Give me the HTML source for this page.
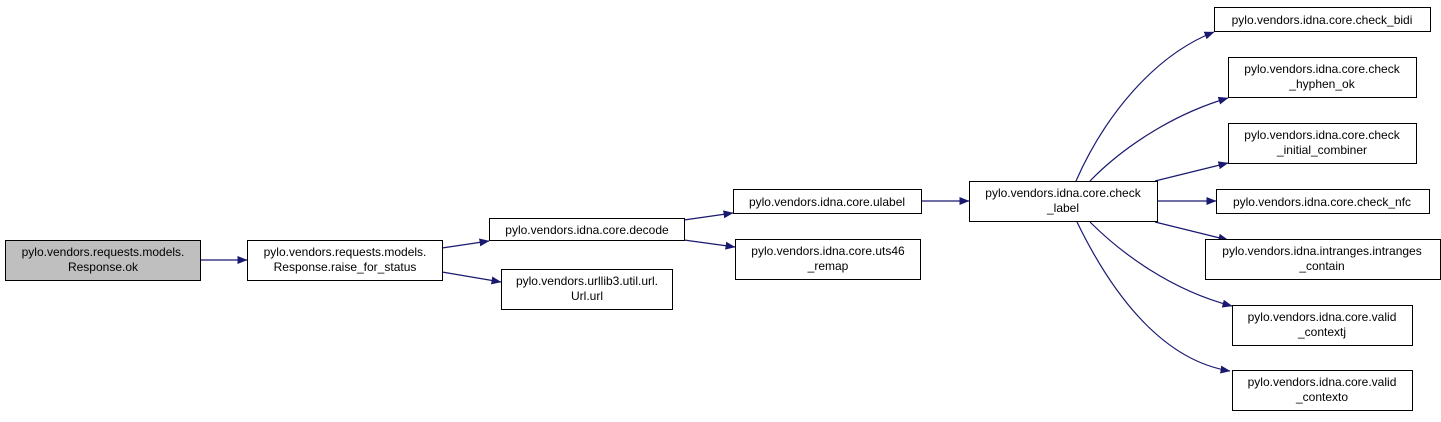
<!DOCTYPE html>
<html><head><meta charset="utf-8"><style>
html,body{margin:0;padding:0;background:#fff;}
svg text{font-family:"Liberation Sans",sans-serif;font-size:12px;fill:#000;}
</style></head><body>
<svg width="1441" height="417" viewBox="0 0 1441 417" xmlns="http://www.w3.org/2000/svg">
<defs><marker id="a" markerWidth="10" markerHeight="8" refX="9.5" refY="4" orient="auto" markerUnits="userSpaceOnUse"><path d="M0,0 L10,4 L0,8 Z" fill="#191970"/></marker></defs>
<g fill="none" stroke="#191970" stroke-width="1.2" marker-end="url(#a)">
<path d="M200,260 L247,260"/>
<path d="M442,248 L489,241"/>
<path d="M442,272 L501,282"/>
<path d="M684,220 L733,213"/>
<path d="M684,240 L735,247"/>
<path d="M921,201 L969,201"/>
<path d="M1076,181 C1105,115 1155,55 1214,32"/>
<path d="M1090,181 C1120,150 1170,115 1228,98"/>
<path d="M1155,181 L1228,163"/>
<path d="M1157,201 L1216,201"/>
<path d="M1155,222 L1228,240"/>
<path d="M1090,222 C1120,252 1170,290 1232,306"/>
<path d="M1077,222 C1110,290 1160,360 1230,371"/>
</g>
<g stroke="#000" stroke-width="1" fill="#fff">
<rect x="5.5" y="240.5" width="195" height="40" fill="#bfbfbf"/>
<rect x="247.5" y="240.5" width="195" height="40"/>
<rect x="489.5" y="218.5" width="195" height="22"/>
<rect x="501.5" y="269.5" width="171" height="40"/>
<rect x="733.5" y="189.5" width="188" height="24"/>
<rect x="735.5" y="239.5" width="185" height="40"/>
<rect x="969.5" y="181.5" width="188" height="40"/>
<rect x="1214.5" y="7.5" width="216" height="24"/>
<rect x="1228.5" y="57.5" width="188" height="40"/>
<rect x="1228.5" y="123.5" width="188" height="40"/>
<rect x="1216.5" y="189.5" width="213" height="24"/>
<rect x="1205.5" y="239.5" width="235" height="40"/>
<rect x="1232.5" y="305.5" width="180" height="40"/>
<rect x="1232.5" y="370.5" width="180" height="40"/>
</g>
<g text-anchor="middle">
<text x="103" y="256">pylo.vendors.requests.models.</text><text x="103" y="271">Response.ok</text>
<text x="345" y="256">pylo.vendors.requests.models.</text><text x="345" y="271">Response.raise_for_status</text>
<text x="587" y="234">pylo.vendors.idna.core.decode</text>
<text x="587" y="285">pylo.vendors.urllib3.util.url.</text><text x="587" y="300">Url.url</text>
<text x="827" y="206">pylo.vendors.idna.core.ulabel</text>
<text x="828" y="255">pylo.vendors.idna.core.uts46</text><text x="828" y="270">_remap</text>
<text x="1063" y="197">pylo.vendors.idna.core.check</text><text x="1063" y="212">_label</text>
<text x="1322" y="24">pylo.vendors.idna.core.check_bidi</text>
<text x="1322" y="73">pylo.vendors.idna.core.check</text><text x="1322" y="88">_hyphen_ok</text>
<text x="1322" y="139">pylo.vendors.idna.core.check</text><text x="1322" y="154">_initial_combiner</text>
<text x="1322" y="206">pylo.vendors.idna.core.check_nfc</text>
<text x="1322" y="255">pylo.vendors.idna.intranges.intranges</text><text x="1322" y="270">_contain</text>
<text x="1322" y="321">pylo.vendors.idna.core.valid</text><text x="1322" y="336">_contextj</text>
<text x="1322" y="386">pylo.vendors.idna.core.valid</text><text x="1322" y="401">_contexto</text>
</g>
</svg>
</body></html>
